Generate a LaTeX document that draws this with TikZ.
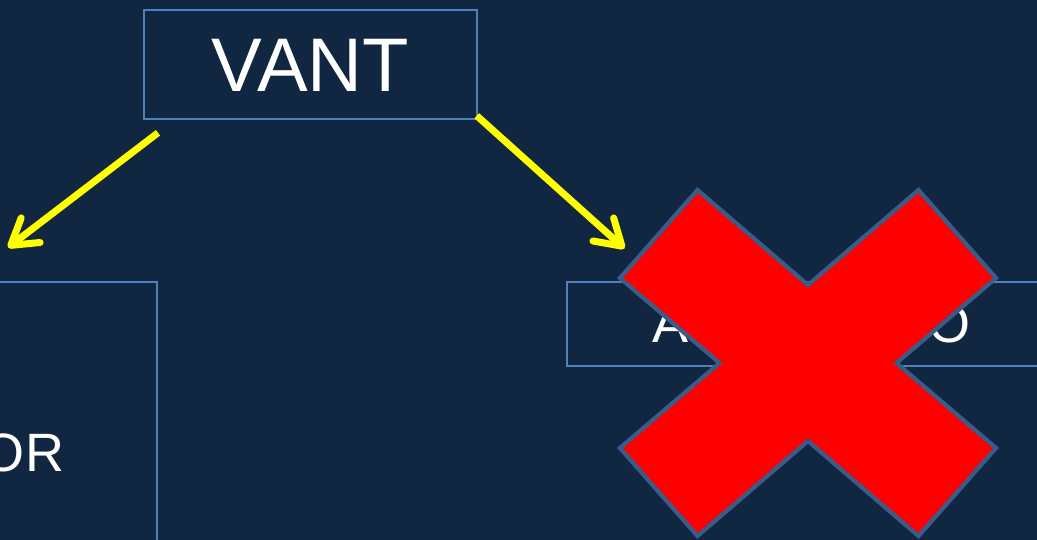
\documentclass[tikz,border=0pt]{standalone}
\usepackage{fontspec}
\setmainfont{Liberation Sans}
\usetikzlibrary{arrows.meta,calc}
\definecolor{bgnavy}{HTML}{112640}
\definecolor{boxblue}{HTML}{4F81BD}
\definecolor{xedge}{HTML}{385D8A}
\definecolor{xred}{HTML}{FF0000}
\definecolor{arrowyellow}{HTML}{FFFF00}
\tikzset{
  boxline/.style={draw=boxblue, line width=1.8pt},
  label/.style={text=white, inner sep=0pt, outer sep=0pt},
  yarrow/.style={draw=arrowyellow, line width=7pt,
    -{Straight Barb[length=25pt,width=31pt,line cap=round,line join=round]}},
  crossmark/.style={fill=xred, draw=xedge, line width=4.2pt, line join=miter}
}
\begin{document}
\begin{tikzpicture}[x=1pt,y=-1pt]
\useasboundingbox (0,0) rectangle (1037,540);
\clip (0,0) rectangle (1037,540);
\fill[bgnavy] (0,0) rectangle (1037,540);

% VANT box
\node[boxline, minimum width=333pt, minimum height=109.3pt, inner sep=0pt, anchor=north west]
  (vant) at (142.7,9) {};
\node[label, anchor=base, font=\fontsize{76}{80}\selectfont] (vanttxt) at (310.5,92) {VANT};

% left box (partly off the page)
\node[boxline, minimum width=178pt, minimum height=290pt, inner sep=0pt, anchor=north east]
  (leftbox) at (158,281) {};
\node[label, anchor=base east, font=\fontsize{54}{60}\selectfont] (lefttxt) at (64,471) {OR};

% right box (partly off the page)
\node[boxline, minimum width=490pt, minimum height=84pt, inner sep=0pt, anchor=north west]
  (rightbox) at (566,281) {};
\node[label, anchor=base west, font=\fontsize{54}{60}\selectfont] (righttxt) at (652.5,342) {AUTÔNOMO};

% arrows
\coordinate (lstart) at ($(vant.south west)+(15.3,12.7)$);
\coordinate (rstart) at ($(vant.south east)+(-0.7,-4.3)$);
\coordinate (ltip) at (8,247.5);
\coordinate (rtip) at (624.5,248.5);
\draw[yarrow] (lstart) -- (ltip);
\draw[yarrow] (rstart) -- (rtip);

% red cross
\draw[crossmark] (697.5,190) -- (808,285) -- (918.5,190) -- (996,278) -- (896.5,363)
  -- (996,448) -- (918.5,536) -- (808,441) -- (697.5,536) -- (620,448)
  -- (719.5,363) -- (620,278) -- cycle;
\end{tikzpicture}
\end{document}
